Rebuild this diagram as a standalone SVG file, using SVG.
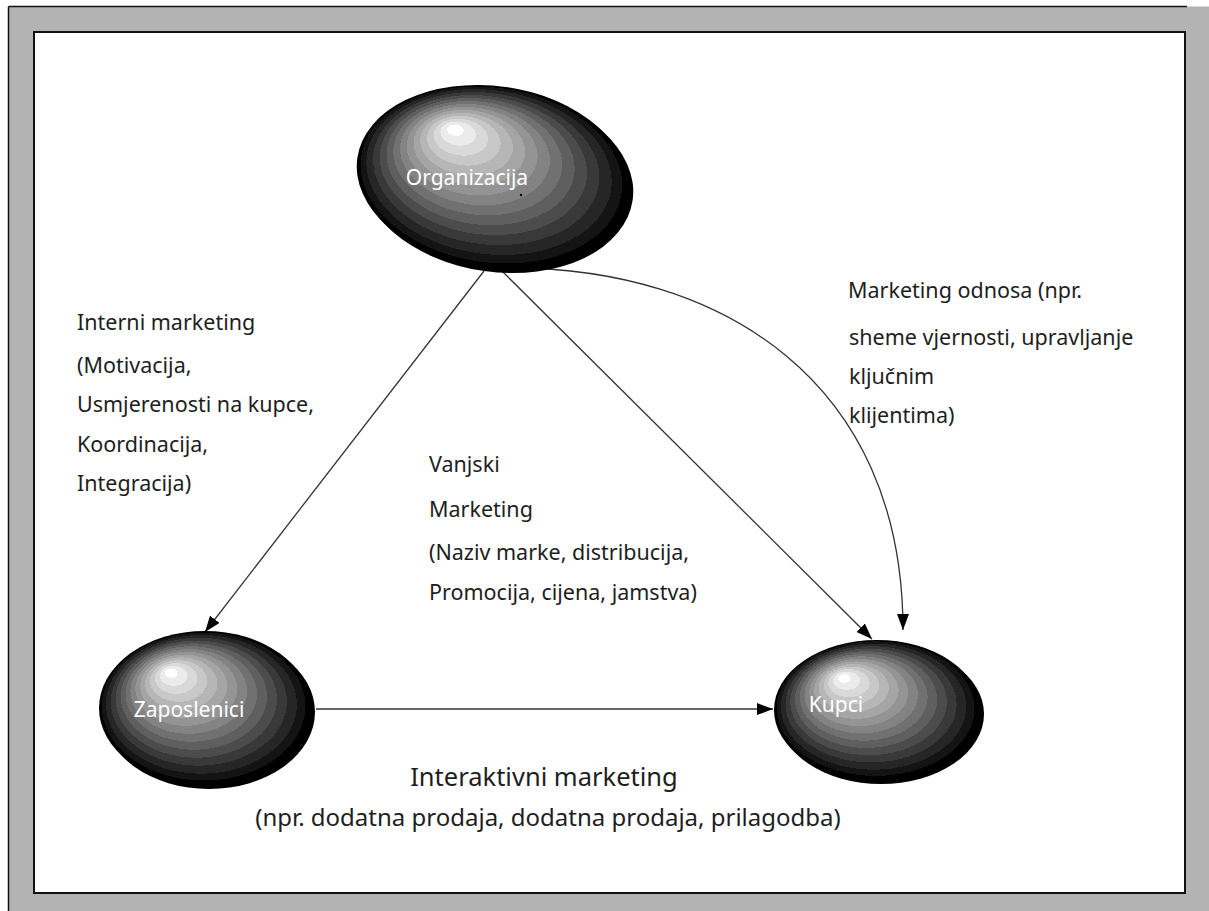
<svg xmlns="http://www.w3.org/2000/svg" width="1209" height="911" viewBox="0 0 1209 911">
  <style>
    .lbl { font-family: "Noto Sans", "Open Sans", sans-serif; font-size: 21.5px; fill: #1e1e1e; }
    .big { font-family: "Noto Sans", "Open Sans", sans-serif; font-size: 24px; fill: #1e1e1e; }
    .node-text { font-family: "Noto Sans", "Open Sans", sans-serif; font-size: 21px; fill: #ffffff; }
    .conn { stroke: #333; stroke-width: 1.3; fill: none; marker-end: url(#arrow); }
  </style>
  <defs>
    <marker id="arrow" viewBox="0 0 16 12" refX="16" refY="6" markerWidth="16" markerHeight="12" markerUnits="userSpaceOnUse" orient="auto">
      <path d="M0,0 L16,6 L0,12 Z" fill="#000"/>
    </marker>
    <radialGradient id="sphere" cx="0.5" cy="0.5" r="0.5" fx="0.33" fy="0.26">
      <stop offset="0" stop-color="#ffffff"/>
      <stop offset="0.06" stop-color="#ffffff"/>
      <stop offset="0.06" stop-color="#ebebeb"/>
      <stop offset="0.13" stop-color="#ebebeb"/>
      <stop offset="0.13" stop-color="#d9d9d9"/>
      <stop offset="0.2" stop-color="#d9d9d9"/>
      <stop offset="0.2" stop-color="#c8c8c8"/>
      <stop offset="0.27" stop-color="#c8c8c8"/>
      <stop offset="0.27" stop-color="#b6b6b6"/>
      <stop offset="0.34" stop-color="#b6b6b6"/>
      <stop offset="0.34" stop-color="#a5a5a5"/>
      <stop offset="0.41" stop-color="#a5a5a5"/>
      <stop offset="0.41" stop-color="#949494"/>
      <stop offset="0.48" stop-color="#949494"/>
      <stop offset="0.48" stop-color="#838383"/>
      <stop offset="0.55" stop-color="#838383"/>
      <stop offset="0.55" stop-color="#717171"/>
      <stop offset="0.62" stop-color="#717171"/>
      <stop offset="0.62" stop-color="#5f5f5f"/>
      <stop offset="0.69" stop-color="#5f5f5f"/>
      <stop offset="0.69" stop-color="#4c4c4c"/>
      <stop offset="0.76" stop-color="#4c4c4c"/>
      <stop offset="0.76" stop-color="#393939"/>
      <stop offset="0.83" stop-color="#393939"/>
      <stop offset="0.83" stop-color="#262626"/>
      <stop offset="0.9" stop-color="#262626"/>
      <stop offset="0.9" stop-color="#141414"/>
      <stop offset="0.96" stop-color="#141414"/>
      <stop offset="0.96" stop-color="#000000"/>
      <stop offset="1" stop-color="#000000"/>
    </radialGradient>
  </defs>

  <!-- frame -->
  <rect x="0" y="0" width="1209" height="911" fill="#ffffff"/>
  <rect x="8.5" y="6.5" width="1201" height="905" fill="#b3b3b3"/>
  <line x1="8.5" y1="6.5" x2="8.5" y2="911" stroke="#111" stroke-width="1.5"/>
  <line x1="8.5" y1="6.5" x2="1187" y2="6.5" stroke="#111" stroke-width="1.5"/>
  <rect x="34" y="32" width="1151" height="861" fill="#ffffff" stroke="#111" stroke-width="2"/>

  <!-- connectors -->
  <g id="connectors">
    <line class="conn" x1="484" y1="271" x2="205" y2="632"/>
    <line class="conn" x1="502" y1="271" x2="872" y2="639"/>
    <path class="conn" d="M512,268 C720,268 903,380 903,630"/>
    <line class="conn" x1="316" y1="709" x2="773" y2="709"/>
  </g>

  <!-- nodes -->
  <g id="node-organizacija">
    <ellipse cx="497" cy="181" rx="137" ry="91" fill="#000" transform="rotate(8 497 181)"/>
    <ellipse cx="493" cy="177" rx="137" ry="91" fill="url(#sphere)" transform="rotate(8 493 177)"/>
    <circle cx="521" cy="195" r="1.2" fill="#000"/>
    <text class="node-text" x="467" y="185" text-anchor="middle">Organizacija</text>
  </g>
  <g id="node-zaposlenici">
    <ellipse cx="209" cy="712" rx="106" ry="77" fill="#000"/>
    <ellipse cx="205" cy="708" rx="106" ry="77" fill="url(#sphere)"/>
    <text class="node-text" x="189" y="717" text-anchor="middle">Zaposlenici</text>
  </g>
  <g id="node-kupci">
    <ellipse cx="881" cy="714" rx="103" ry="70" fill="#000"/>
    <ellipse cx="877" cy="710" rx="103" ry="70" fill="url(#sphere)"/>
    <text class="node-text" x="836" y="712" text-anchor="middle">Kupci</text>
  </g>

  <!-- labels -->
  <g id="label-interni">
    <text class="lbl" x="77" y="330">Interni marketing</text>
    <text class="lbl" x="77" y="373">(Motivacija,</text>
    <text class="lbl" x="77" y="412">Usmjerenosti na kupce,</text>
    <text class="lbl" x="77" y="452">Koordinacija,</text>
    <text class="lbl" x="77" y="491">Integracija)</text>
  </g>
  <g id="label-vanjski">
    <text class="lbl" x="429" y="472">Vanjski</text>
    <text class="lbl" x="429" y="517">Marketing</text>
    <text class="lbl" x="429" y="560">(Naziv marke, distribucija,</text>
    <text class="lbl" x="429" y="600">Promocija, cijena, jamstva)</text>
  </g>
  <g id="label-odnosa">
    <text class="lbl" x="848" y="298">Marketing odnosa (npr.</text>
    <text class="lbl" x="849" y="345">sheme vjernosti, upravljanje</text>
    <text class="lbl" x="849" y="384">ključnim</text>
    <text class="lbl" x="849" y="423">klijentima)</text>
  </g>
  <g id="label-interaktivni">
    <text class="big" x="544" y="786" text-anchor="middle" style="font-size:25.5px">Interaktivni marketing</text>
    <text class="big" x="548" y="826" text-anchor="middle">(npr. dodatna prodaja, dodatna prodaja, prilagodba)</text>
  </g>
</svg>
